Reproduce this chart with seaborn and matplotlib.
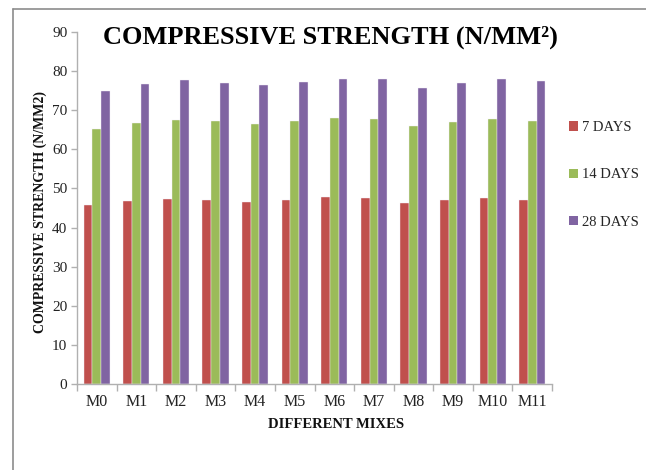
import numpy as np
import pandas as pd
import matplotlib
matplotlib.use("Agg")
import matplotlib.pyplot as plt
from matplotlib.patches import Patch
from matplotlib.lines import Line2D
import seaborn as sns

mixes = ["M0", "M1", "M2", "M3", "M4", "M5", "M6", "M7", "M8", "M9", "M10", "M11"]
days_7 = [45.8, 46.7, 47.3, 47.0, 46.5, 47.1, 47.7, 47.6, 46.2, 47.0, 47.6, 47.1]
days_14 = [65.1, 66.7, 67.5, 67.2, 66.4, 67.2, 68.0, 67.8, 65.9, 67.0, 67.7, 67.3]
days_28 = [74.8, 76.7, 77.6, 77.0, 76.4, 77.2, 78.1, 77.9, 75.8, 77.0, 77.9, 77.4]
series_names = ["7 DAYS", "14 DAYS", "28 DAYS"]
colors = ["#C0504D", "#9BBB59", "#8064A2"]

df = pd.DataFrame({
    "Mix": mixes * 3,
    "Strength": days_7 + days_14 + days_28,
    "Age": [series_names[0]] * 12 + [series_names[1]] * 12 + [series_names[2]] * 12,
})

sns.set_theme(style="white")
plt.rcParams["font.family"] = ["Liberation Serif", "DejaVu Serif"]

W, H = 646, 470
fig = plt.figure(figsize=(W / 100, H / 100), dpi=100)
ax = fig.add_axes([77 / W, 1 - 384 / H, (552 - 77) / W, (384 - 32) / H])

sns.barplot(data=df, x="Mix", y="Strength", hue="Age", order=mixes,
            hue_order=series_names, palette=colors, saturation=1,
            width=0.66, gap=0, edgecolor="#F2EEF6", linewidth=0.3,
            ax=ax, legend=False)

ax.set_ylim(0, 90)
ax.set_xlim(-0.5, len(mixes) - 0.5)
ax.set_yticks(np.arange(0, 91, 10))
ax.set_xlabel("")
ax.set_ylabel("")

spine_c = "#B0B0B0"
for side in ["top", "right"]:
    ax.spines[side].set_visible(False)
for side in ["left", "bottom"]:
    ax.spines[side].set_color(spine_c)
    ax.spines[side].set_linewidth(1.0)

ax.tick_params(axis="y", direction="out", length=4, color=spine_c, width=1,
               labelsize=11, labelcolor="#222222", pad=3, left=True)
ax.set_xticks(range(len(mixes)))
ax.set_xticklabels(mixes)
ax.tick_params(axis="x", which="major", length=0, labelsize=11.5,
               labelcolor="#222222", pad=7)
ax.set_xticks(np.arange(-0.5, len(mixes)), minor=True)
ax.tick_params(axis="x", which="minor", direction="out", length=5,
               color=spine_c, width=1, bottom=True)

fig.text(330 / W, 1 - 37 / H, "COMPRESSIVE STRENGTH (N/MM²)",
         ha="center", va="center", fontsize=19, fontweight="bold", color="black")
fig.text(40 / W, 1 - 212 / H, "COMPRESSIVE STRENGTH (N/MM2)", rotation=90,
         ha="center", va="center", fontsize=10, fontweight="bold", color="#111111")
fig.text(336 / W, 1 - 424 / H, "DIFFERENT MIXES",
         ha="center", va="center", fontsize=10.5, fontweight="bold", color="#111111")

handles = [Patch(facecolor=c, edgecolor="none") for c in colors]
fig.legend(handles, series_names, loc="center left",
           bbox_to_anchor=(556 / W, 1 - 175 / H), frameon=False,
           fontsize=10.5, handlelength=0.6, handleheight=0.6,
           handletextpad=0.3, labelspacing=2.35)

# Thin frame around the chart area (top and left edges)
fig.add_artist(Line2D([13 / W, 1], [1 - 9 / H, 1 - 9 / H], transform=fig.transFigure,
                      color="#8C8C8C", linewidth=1.2))
fig.add_artist(Line2D([13 / W, 13 / W], [0, 1 - 9 / H], transform=fig.transFigure,
                      color="#8C8C8C", linewidth=1.2))

fig.savefig("out.png", dpi=100, facecolor="white")
